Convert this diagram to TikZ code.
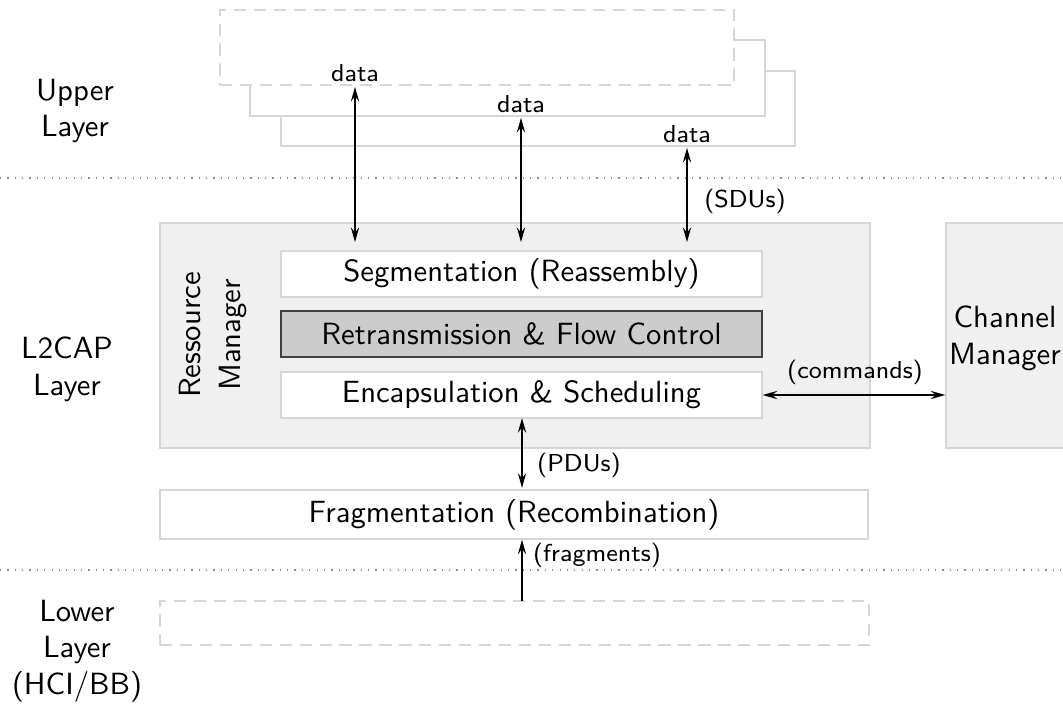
\documentclass[tikz,border=0pt]{standalone}
\usetikzlibrary{arrows.meta}
\def\pxu{0.326pt}
\begin{document}
\begin{tikzpicture}[x=\pxu,y=-\pxu,font=\sffamily,
  every node/.style={inner sep=1.5pt},
  lbox/.style={draw=black!16,line width=0.4pt,fill=white,inner sep=0pt},
  dbox/.style={lbox,dashed,dash pattern=on 4pt off 2.5pt},
  gbox/.style={draw=black!16,line width=0.4pt,fill=black!6,inner sep=0pt},
  dk/.style={draw=black!75,line width=0.5pt,fill=black!20,inner sep=0pt},
  sep/.style={black!45,line width=0.4pt,dotted},
  small/.style={font=\sffamily\footnotesize},
  tip/.style={},
  conn/.style={line width=0.5pt,{Stealth[length=4.8pt,width=2.7pt,inset=1.7pt]}-{Stealth[length=4.8pt,width=2.7pt,inset=1.7pt]}},
  conn1/.style={line width=0.5pt,-{Stealth[length=4.8pt,width=2.7pt,inset=1.7pt]}},
  lbl/.style={align=center}]
\useasboundingbox (0,0) rectangle (1063,706);
% separators
\coordinate (s1l) at (0,178); \coordinate (s1r) at (1063,178);
\coordinate (s2l) at (0,570); \coordinate (s2r) at (1063,570);
\draw[sep] (s1l) -- (s1r);
\draw[sep] (s2l) -- (s2r);
% layer labels
\node[lbl] (upper) at (75,111) {Upper\\Layer};
\node[lbl] (l2cap) at (67,369) {L2CAP\\Layer};
\node[lbl] (lower) at (77,651) {Lower\\Layer\\(HCI/BB)};
% upper layer stacked boxes
\node[lbox,minimum width={514*\pxu},minimum height={75*\pxu}] (ub3) at (538,108.5) {};
\node[lbox,minimum width={515*\pxu},minimum height={76*\pxu}] (ub2) at (507.5,78) {};
\node[dbox,minimum width={514*\pxu},minimum height={75*\pxu}] (ub1) at (477,47.5) {};
\node[small] (d1) at (355,73) {data};
\node[small] (d2) at (521,104) {data};
\node[small] (d3) at (687,134) {data};
% L2CAP
\node[gbox,minimum width={710*\pxu},minimum height={225*\pxu}] (l2) at (515,335.5) {};
\node[gbox,minimum width={118*\pxu},minimum height={225*\pxu}] (cm) at (1005,335.5) {};
\node[align=center] (cmt) at (1005,338) {Channel\\Manager};
\node[rotate=90,align=center] (rm) at (213,335) {Ressource\\[1pt]Manager};
\node[lbox,minimum width={481*\pxu},minimum height={46*\pxu}] (seg) at (521.5,274) {Segmentation (Reassembly)};
\node[dk,minimum width={481*\pxu},minimum height={46*\pxu}] (ret) at (521.5,334) {Retransmission \& Flow Control};
\node[lbox,minimum width={481*\pxu},minimum height={46*\pxu}] (enc) at (521.5,395) {Encapsulation \& Scheduling};
\node[lbox,minimum width={708*\pxu},minimum height={49*\pxu}] (frag) at (514,514.5) {Fragmentation (Recombination)};
\node[dbox,minimum width={709*\pxu},minimum height={44*\pxu}] (low) at (514.5,623) {};
% connectors
\draw[conn,shorten >=2.7pt] (d1.south) -- (d1.south |- seg.north);
\draw[conn,shorten >=2.7pt] (d2.south) -- (d2.south |- seg.north);
\draw[conn,shorten >=2.7pt] (d3.south) -- (d3.south |- seg.north);
\node[small] (sdu) at (745,201) {(SDUs)};
\draw[conn] (enc.east) -- (enc.east -| cm.west);
\node[small] (cmd) at (855,372) {(commands)};
\coordinate (pa) at (522,418);
\draw[conn,shorten >=0.5pt] (pa) -- (pa |- frag.north);
\node[small] (pdu) at (579,465) {(PDUs)};
\coordinate (fa) at (522,601);
\draw[conn1] (fa) -- (fa |- frag.south);
\node[small] (frg) at (597,555) {(fragments)};
\end{tikzpicture}
\end{document}
